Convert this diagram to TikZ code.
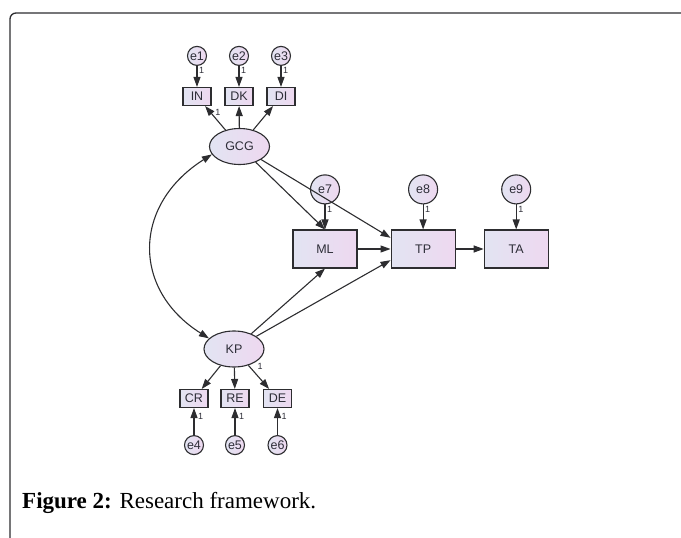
\documentclass[tikz,border=0pt]{standalone}
\usepackage{fontspec}
\setmainfont{Liberation Serif}
\setsansfont{Liberation Sans}
\usepackage{xcolor}
\usepackage{tikz}
\usetikzlibrary{shapes.geometric, arrows.meta, positioning, calc}
\definecolor{lineg}{RGB}{45,45,48}
\definecolor{fillL}{RGB}{226,228,242}
\definecolor{fillR}{RGB}{238,216,240}
\definecolor{textg}{RGB}{45,45,55}
\tikzset{
  shade/.style={left color=fillL, right color=fillR, draw=lineg, line width=1.1pt,
                text=textg, font=\sffamily\fontsize{12.5}{13}\selectfont, inner sep=0pt},
  obs/.style={shade, rectangle, minimum width=28pt, minimum height=18pt},
  bigobs/.style={shade, rectangle, minimum width=64pt, minimum height=38pt},
  latent/.style={shade, ellipse, minimum width=60pt, minimum height=36pt},
  err/.style={shade, circle, minimum size=19pt},
  bigerr/.style={shade, circle, minimum size=29pt},
  arrow/.style={-{Triangle[length=10pt, width=7pt]}, draw=lineg, line width=1.1pt},
  dblarrow/.style={{Triangle[length=10pt, width=7pt]}-{Triangle[length=10pt, width=7pt]},
                   draw=lineg, line width=1.1pt},
  one/.style={font=\sffamily\fontsize{9}{9}\selectfont, text=textg, inner sep=1.5pt},
}
\begin{document}
\begin{tikzpicture}[x=1pt, y=-1pt]
\useasboundingbox (0,0) rectangle (681,538);

% ── Frame ─────────────────────────────────────────────────────────────────────
\draw[lineg, line width=1.3pt, rounded corners=6pt] (10,540) -- (10,13) -- (683,13);

% ── Latent variables ─────────────────────────────────────────────────────────
\node[latent] (gcg) at (239.5,146.5) {GCG};
\node[latent] (kp)  at (234,349) {KP};

% ── Indicators of GCG ────────────────────────────────────────────────────────
\node[obs] (in) at (197,96.5) {IN};
\node[obs] (dk) at (239,96.5) {DK};
\node[obs] (di) at (281,96.5) {DI};
\node[err, above=21pt of in] (e1) {e1};
\node[err, above=21pt of dk] (e2) {e2};
\node[err, above=21pt of di] (e3) {e3};

% ── Indicators of KP ─────────────────────────────────────────────────────────
\node[obs] (cr) at (194,398.5) {CR};
\node[obs] (re) at (235,398.5) {RE};
\node[obs] (de) at (277.5,398.5) {DE};
\node[err, below=27pt of cr] (e4) {e4};
\node[err, below=27pt of re] (e5) {e5};
\node[err, below=27pt of de] (e6) {e6};

% ── Mediator and outcomes ────────────────────────────────────────────────────
\node[bigobs] (ml) at (325,249) {ML};
\node[bigobs, right=33pt of ml] (tp) {TP};
\node[bigobs, right=28pt of tp] (ta) {TA};
\node[bigerr, above=25pt of ml] (e7) {e7};
\node[bigerr, above=25pt of tp] (e8) {e8};
\node[bigerr, above=25pt of ta] (e9) {e9};

% ── Arrows: errors → indicators ──────────────────────────────────────────────
\draw[arrow] (e1) -- node[one, right, pos=0.2] {1} (in);
\draw[arrow] (e2) -- node[one, right, pos=0.2] {1} (dk);
\draw[arrow] (e3) -- node[one, right, pos=0.2] {1} (di);
\draw[arrow] (e4) -- node[one, right, pos=0.7, xshift=2pt] {1} (cr);
\draw[arrow] (e5) -- node[one, right, pos=0.7, xshift=2pt] {1} (re);
\draw[arrow] (e6) -- node[one, right, pos=0.7, xshift=2pt] {1} (de);
\draw[arrow] (e7) -- node[one, right, pos=0.2] {1} (ml);
\draw[arrow] (e8) -- node[one, right, pos=0.2] {1} (tp);
\draw[arrow] (e9) -- node[one, right, pos=0.2] {1} (ta);

% ── Arrows: latents → indicators ─────────────────────────────────────────────
\draw[arrow] (gcg) -- node[one, right, pos=0.75, xshift=3pt] {1} (in);
\draw[arrow] (gcg) -- (dk);
\draw[arrow] (gcg) -- (di);
\draw[arrow] (kp) -- (cr);
\draw[arrow] (kp) -- (re);
\draw[arrow] (kp) -- node[one, above right, pos=0.25, xshift=2pt] {1} (de);

% ── Arrows: structural paths ─────────────────────────────────────────────────
\draw[arrow] (gcg) -- (ml.north);
\draw[arrow] (gcg) -- (tp.161);
\draw[arrow] (kp) -- (ml.south);
\draw[arrow] (kp) -- (tp.199);
\draw[arrow] (ml) -- (tp);
\draw[arrow] (tp) -- (ta);

% ── Covariance GCG ↔ KP ──────────────────────────────────────────────────────
\draw[dblarrow] (gcg.196) .. controls (132,205) and (132,290) .. (kp.157);

% ── Caption ──────────────────────────────────────────────────────────────────
\node[anchor=base west, inner sep=0pt, font=\fontsize{23}{26}\selectfont] (cap)
  at (22,508) {\textbf{Figure 2:} Research framework.};

\end{tikzpicture}
\end{document}
